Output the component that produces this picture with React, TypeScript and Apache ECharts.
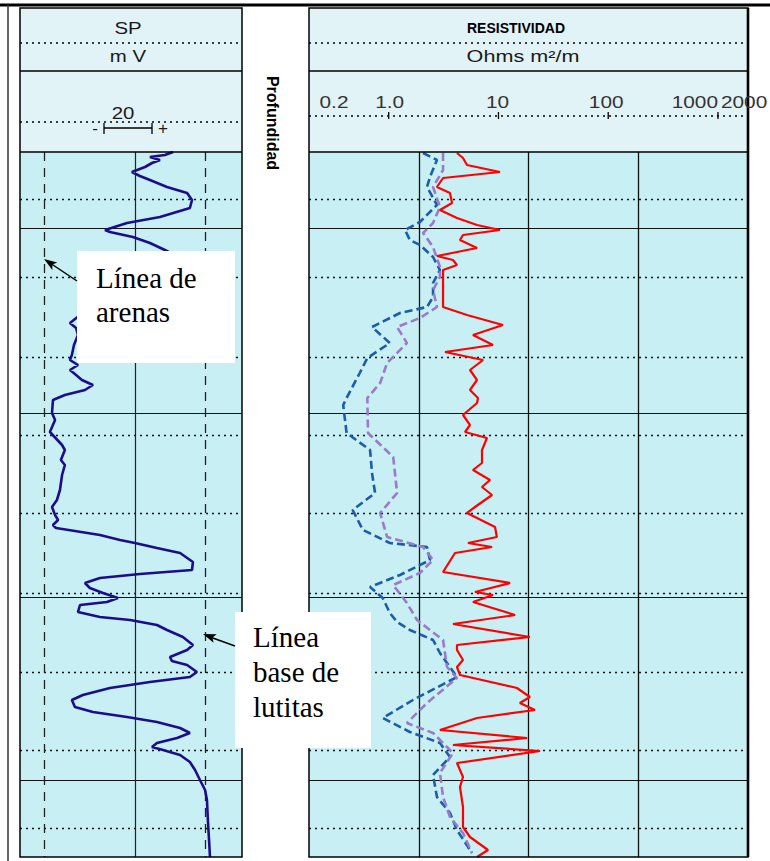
import React, { useEffect, useRef } from "react";
import * as echarts from "echarts";

// ---- Data (depth in log units from top of logged interval) ----
const spDepth = [0,3,5,8,11,15,20,24,28,35,41,48,56,65,71,78,80,85,91,98,105,113,123,138,153,163,171,176,183,193,203,208,213,218,223,228,233,238,243,248,261,268,280,293,298,308,313,323,338,348,355,363,368,373,376,379,383,388,391,396,401,410,418,422,426,431,436,441,446,450,453,460,465,468,473,478,485,493,498,505,509,513,520,525,530,536,543,548,555,560,565,570,576,581,586,591,595,598,603,610,618,628,638,648,668,688,705];
const spMv = [16.3,12.8,6.4,10.7,7.3,4.3,-1.3,2.1,6.4,13.7,22.3,24.4,23.5,10.7,-3.4,-12.8,-10.7,-0.9,6.4,12.8,18.4,20.5,15.8,2.1,-15.0,-23.5,-27.8,-25.2,-24.4,-26.1,-27.0,-27.8,-24.4,-27.8,-25.2,-22.7,-18.0,-21.4,-30.0,-35.1,-35.5,-34.2,-36.4,-31.2,-30.0,-31.7,-30.0,-31.2,-32.1,-33.4,-35.5,-34.2,-32.9,-35.1,-33.8,-25.7,-15.0,-6.4,0,9.4,19.3,24.8,24.4,2.1,-15.0,-21.4,-19.3,-13.7,-7.3,-12.0,-23.5,-24.4,-15.0,-2.1,9.4,13.7,20.5,24.8,22.3,15.0,15.8,22.3,26.5,23.5,6.4,-10.7,-22.3,-27.0,-25.7,-18.0,-3.4,9.4,19.3,23.5,18.0,9.4,7.3,12.0,19.3,23.5,25.7,27.8,30.0,30.8,31.2,31.7,32.1];

const deepDepth = [1,6,13,20,26,35,41,51,58,66,73,78,83,88,96,98,104,108,113,118,155,163,173,183,193,200,208,218,228,238,246,251,263,273,280,286,298,311,318,328,335,343,355,361,375,385,391,395,401,420,431,440,443,450,463,472,485,493,498,508,515,523,536,545,551,558,566,578,586,593,599,611,625,635,655,675,685,698,705];
const deepRes = [4.46,5.06,5.50,11.0,3.33,2.93,3.85,4.02,3.12,4.46,6.79,11.0,5.06,4.75,6.79,5.50,2.93,4.10,4.46,3.33,3.33,5.50,11.7,6.24,9.50,3.47,7.70,5.86,6.79,5.86,6.93,6.79,5.06,5.86,5.28,8.37,7.54,7.54,6.24,8.92,7.54,9.30,6.51,5.50,9.91,10.3,5.62,9.30,4.28,3.33,13.6,6.51,9.50,6.24,15.1,4.10,20.6,4.46,4.46,5.06,4.46,4.75,15.7,20.6,16.7,22.9,6.79,3.12,19.4,4.10,25.5,4.46,5.06,4.75,5.06,5.06,5.86,8.55,6.79];

const shallowDepth = [1,8,25,35,53,70,78,88,93,105,118,131,145,155,161,175,191,206,221,246,253,281,298,321,341,358,378,391,395,408,423,435,446,461,470,478,488,501,525,548,566,580,591,605,623,645,661,678,701];
const shallowRes = [2.19,2.93,2.53,2.38,2.93,2.05,1.50,1.66,2.05,2.70,3.12,2.70,2.70,2.38,1.35,0.75,1.09,0.68,0.58,0.44,0.41,0.44,0.72,0.75,0.80,0.50,0.62,1.09,2.38,2.53,1.35,0.72,0.94,1.09,1.27,1.66,2.70,3.12,4.46,1.77,0.94,1.66,3.12,3.85,2.70,2.93,3.85,4.46,6.11];

const mediumDepth = [1,18,35,55,71,81,95,115,125,138,155,166,175,191,211,231,246,281,305,341,361,385,395,408,421,433,451,468,478,488,515,526,551,571,581,601,621,645,665,681,701];
const mediumRes = [3.33,3.33,2.70,3.12,2.70,2.19,2.70,3.12,3.12,2.70,2.93,2.05,1.27,1.56,1.03,0.89,0.68,0.69,1.17,1.27,0.89,1.03,2.19,2.70,2.05,1.17,1.56,1.93,2.53,3.33,3.62,4.46,2.38,1.56,2.70,4.10,3.12,3.33,3.85,5.06,6.11];

const majorDepths = [76, 261, 445, 628];
const minorDepths = [47, 125, 205, 283, 361, 441, 520, 598, 676];
const spSandLine = -39;
const spCenterLine = 0;
const spShaleLine = 30;
const resGridValues = [2, 20, 200];
const resTickValues = [1, 10, 100, 1000];
const resTickLabels = ["0.2", "1.0", "10", "100", "1000", "2000"];
const resLabelValues = [0.2, 1, 10, 100, 1000, 2000];

const zip = (d: number[], v: number[]) => d.map((dd, i) => [v[i], dd]);

const DATA_BG = "#C8EFF4";
const HEAD_BG = "#E2F3F7";

function arrowHead(tx: number, ty: number, fx: number, fy: number) {
  const dx = tx - fx, dy = ty - fy;
  const len = Math.sqrt(dx * dx + dy * dy);
  const ux = dx / len, uy = dy / len;
  const L = 13, W = 4.5;
  const bx = tx - ux * L, by = ty - uy * L;
  return [[tx, ty], [bx - uy * W, by + ux * W], [bx + ux * 3, by + uy * 3], [bx + uy * W, by - ux * W]];
}

export default function App() {
  const ref = useRef<HTMLDivElement>(null);
  useEffect(() => {
    document.body.style.margin = "0";
    const chart = echarts.init(ref.current!, null, { renderer: "svg" });

    const hLines = [
      ...majorDepths.map((d) => ({ yAxis: d, lineStyle: { type: "solid", color: "#111", width: 1.2 } })),
      ...minorDepths.map((d) => ({ yAxis: d, lineStyle: { type: [2, 4], color: "#111", width: 1.4 } })),
    ];
    const mlBase = { silent: true, symbol: ["none", "none"], label: { show: false }, animation: false, z: 1 };

    const option: any = {
      animation: false,
      grid: [
        { left: 20, top: 152, width: 222, height: 705, show: true, backgroundColor: DATA_BG, borderWidth: 0 },
        { left: 309, top: 152, width: 439, height: 705, show: true, backgroundColor: DATA_BG, borderWidth: 0 },
      ],
      xAxis: [
        { type: "value", gridIndex: 0, min: -49.2, max: 45.8, show: false },
        { type: "log", logBase: 10, gridIndex: 1, min: 0.2, max: 2000, show: false },
      ],
      yAxis: [
        { type: "value", gridIndex: 0, min: 0, max: 705, inverse: true, show: false },
        { type: "value", gridIndex: 1, min: 0, max: 705, inverse: true, show: false },
      ],
      series: [
        {
          type: "line", xAxisIndex: 0, yAxisIndex: 0, data: [], z: 1,
          markLine: {
            ...mlBase,
            data: [
              ...hLines,
              { xAxis: spSandLine, lineStyle: { type: [9, 7], color: "#222", width: 1.3 } },
              { xAxis: spCenterLine, lineStyle: { type: "solid", color: "#222", width: 1.2 } },
              { xAxis: spShaleLine, lineStyle: { type: [9, 7], color: "#222", width: 1.3 } },
            ],
          },
        },
        {
          type: "line", xAxisIndex: 1, yAxisIndex: 1, data: [], z: 1,
          markLine: {
            ...mlBase,
            data: [
              ...hLines,
              ...resGridValues.map((v) => ({ xAxis: v, lineStyle: { type: "solid", color: "#111", width: 1.3 } })),
            ],
          },
        },
        {
          name: "SP", type: "line", xAxisIndex: 0, yAxisIndex: 0, data: zip(spDepth, spMv),
          symbol: "none", z: 5, lineStyle: { color: "#1B0E8A", width: 2.6 },
        },
        {
          name: "Somera", type: "line", xAxisIndex: 1, yAxisIndex: 1, data: zip(shallowDepth, shallowRes),
          symbol: "none", z: 5, lineStyle: { color: "#1D5CA8", width: 2.6, type: [8, 4] },
        },
        {
          name: "Media", type: "line", xAxisIndex: 1, yAxisIndex: 1, data: zip(mediumDepth, mediumRes),
          symbol: "none", z: 5, lineStyle: { color: "#9A7CC6", width: 2.6, type: [8, 4] },
        },
        {
          name: "Profunda", type: "line", xAxisIndex: 1, yAxisIndex: 1, data: zip(deepDepth, deepRes),
          symbol: "none", z: 6, lineStyle: { color: "#FF0000", width: 2.2 },
        },
      ],
    };
    chart.setOption(option);

    const px = (v: number) => chart.convertToPixel({ xAxisIndex: 1 }, v) as number;
    const g: any[] = [];
    const line = (x1: number, y1: number, x2: number, y2: number, style: any, z = 10) =>
      g.push({ type: "line", z, silent: true, shape: { x1, y1, x2, y2 }, style: { stroke: "#000", lineWidth: 1.2, ...style } });
    const text = (t: string, x: number, y: number, style: any, extra: any = {}) =>
      g.push({ type: "text", z: 12, silent: true, x, y, ...extra, style: { text: t, fill: "#1a1a1a", align: "center", verticalAlign: "middle", font: "17px 'Liberation Sans', Arial, sans-serif", ...style } });

    // frame
    line(0, 5, 770, 5, { lineWidth: 3 });
    line(8, 5, 8, 861, { lineWidth: 1.5, stroke: "#333" });

    const tracks = [
      { x: 20, w: 222, dot2: 122 },
      { x: 309, w: 439, dot2: 116 },
    ];
    tracks.forEach((t, i) => {
      g.push({ type: "rect", z: 2, silent: true, shape: { x: t.x, y: 8, width: t.w, height: 144 }, style: { fill: HEAD_BG } });
      line(t.x, 43, t.x + t.w, 43, { lineDash: [2, 4], lineWidth: 1.4 });
      line(t.x, t.dot2, t.x + t.w, t.dot2, { lineDash: [2, 4], lineWidth: 1.4 });
      line(t.x, 71, t.x + t.w, 71, { lineWidth: 1.3 });
      line(t.x, 152, t.x + t.w, 152, { lineWidth: 1.3 });
      g.push({ type: "rect", z: 11, silent: true, shape: { x: t.x, y: 8, width: t.w, height: 849 }, style: { fill: "none", stroke: "#000", lineWidth: 1.5 } });
      if (i === 1) line(t.x + t.w, 8, t.x + t.w, 857, { lineWidth: 2.6 });
    });

    // SP header
    text("SP", 128, 28, {}, { scaleX: 1.2 });
    text("m V", 128, 56, {}, { scaleX: 1.2 });
    text("20", 123, 113, {}, { scaleX: 1.2 });
    text("-", 95, 128, {});
    text("+", 163, 128, {});
    line(104, 128, 152, 128, { lineWidth: 1.3 });
    line(104, 123, 104, 134, { lineWidth: 1.3 });
    line(152, 123, 152, 134, { lineWidth: 1.3 });

    // Depth label
    text("Profundidad", 272, 123, { font: "bold 16px 'Liberation Sans', Arial, sans-serif", fill: "#000" }, { rotation: -Math.PI / 2 });

    // Resistivity header
    text("RESISTIVIDAD", 516, 28, { font: "bold 14px 'Liberation Sans', Arial, sans-serif", fill: "#000" });
    text("Ohms m²/m", 523, 57, { font: "16px 'Liberation Sans', Arial, sans-serif" }, { scaleX: 1.35 });
    const labelOffsets = [25, 4, 2, 1, 3, -27];
    const labelAlign = ["center", "center", "center", "center", "right", "left"];
    resTickLabels.forEach((lab, i) => {
      text(lab, px(resLabelValues[i]) + labelOffsets[i], 102, { font: "16px 'Liberation Sans', Arial, sans-serif", align: labelAlign[i], fill: "#333" }, { scaleX: 1.3 });
    });
    resTickValues.forEach((v) => line(px(v) + 3, 112, px(v) + 3, 119, { lineWidth: 1.3 }));

    // Annotations
    g.push({ type: "rect", z: 20, silent: true, shape: { x: 77, y: 251, width: 158, height: 112 }, style: { fill: "#fff" } });
    g.push({ type: "rect", z: 20, silent: true, shape: { x: 235, y: 612, width: 136, height: 136 }, style: { fill: "#fff" } });
    const serif = "29px 'Liberation Serif', 'Times New Roman', serif";
    const ann = (t: string, x: number, y: number) =>
      g.push({ type: "text", z: 21, silent: true, x, y, style: { text: t, font: serif, fill: "#000", align: "left", verticalAlign: "middle" } });
    ann("Línea de", 96, 278);
    ann("arenas", 96, 312);
    ann("Línea", 253, 637);
    ann("base de", 253, 672);
    ann("lutitas", 253, 707);
    line(77, 281, 50, 263, { lineWidth: 1.5 }, 22);
    g.push({ type: "polygon", z: 22, silent: true, shape: { points: arrowHead(44, 259, 77, 281) }, style: { fill: "#000" } });
    line(235, 646, 210, 637, { lineWidth: 1.5 }, 22);
    g.push({ type: "polygon", z: 22, silent: true, shape: { points: arrowHead(203, 634, 235, 646) }, style: { fill: "#000" } });

    chart.setOption({ graphic: g });
    return () => chart.dispose();
  }, []);
  return <div ref={ref} style={{ width: 770, height: 861 }} />;
}
